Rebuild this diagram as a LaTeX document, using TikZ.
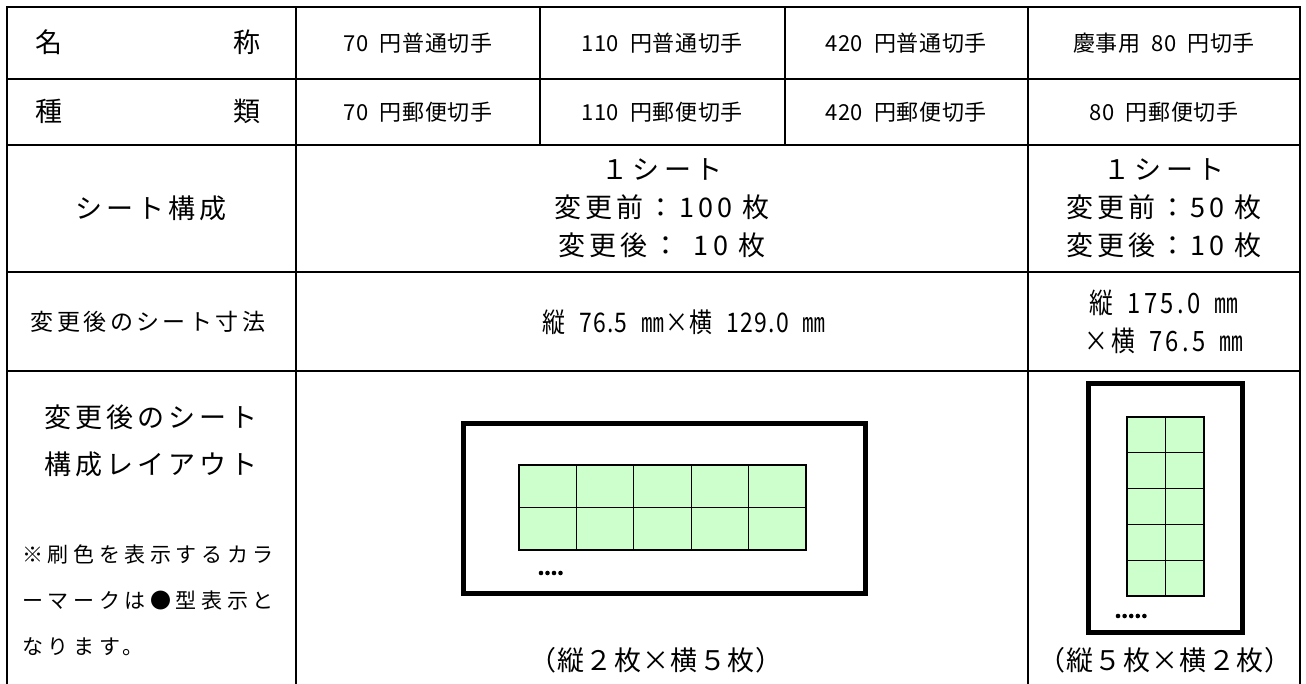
\documentclass[tikz,border=0pt]{standalone}
\usepackage{fontspec}
\setmainfont{Noto Sans CJK JP}
\newfontfamily\jp{Noto Sans CJK JP}
\newfontfamily\jpls[LetterSpace=15]{Noto Sans CJK JP}
\newfontfamily\jpmid[LetterSpace=15]{Noto Sans CJK JP}
\newfontfamily\jpnote[LetterSpace=22]{Noto Sans CJK JP}
\newfontfamily\jpsmall[LetterSpace=3]{Noto Sans CJK JP}
\newfontfamily\jpdim[FakeStretch=0.85,LetterSpace=5]{Noto Sans CJK JP}
\newfontfamily\jpdimr[FakeStretch=0.85,LetterSpace=12]{Noto Sans CJK JP}
\newfontfamily\jpparen[LetterSpace=5]{Noto Sans CJK JP}
\newcommand\jsp{\hspace{0.5em}}
\definecolor{stampgreen}{HTML}{CCFFCC}
\begin{document}
\begin{tikzpicture}[x=1pt,y=-1pt,
  tline/.style={line width=2.5pt},
  big/.style={font={\jpls\fontsize{27}{38}\selectfont}, inner sep=0pt},
  lay/.style={font={\jpls\fontsize{27}{47}\selectfont}, inner sep=0pt},
  paren/.style={font={\jpparen\fontsize{27}{30}\selectfont}, inner sep=0pt},
  small/.style={font={\jpsmall\fontsize{22}{26}\selectfont}, inner sep=0pt},
  midls/.style={font={\jpmid\fontsize{23}{30}\selectfont}, inner sep=0pt},
  dimtxt/.style={font={\jpdim\fontsize{27}{38}\selectfont}, inner sep=0pt},
  dimr/.style={font={\jpdimr\fontsize{28}{38}\selectfont}, inner sep=0pt},
  note/.style={font={\jpnote\fontsize{21}{30}\selectfont}, inner sep=0pt, anchor=west},
  sheet/.style={line width=5pt},
  stamp/.style={draw=black, line width=1.2pt, fill=stampgreen}
]
\useasboundingbox (0,0) rectangle (1306,684);
\fill[white] (0,0) rectangle (1306,684);
% table frame
\draw[tline] (7,695) -- (7,7) -- (1300,7) -- (1300,695);
\foreach \yy in {79,145,272,371} \draw[tline] (7,\yy) -- (1300,\yy);
\draw[tline] (296,7) -- (296,695);
\draw[tline] (1028,7) -- (1028,695);
\draw[tline] (540,7) -- (540,145);
\draw[tline] (785,7) -- (785,145);
% row 1
\node[big] (n1) at (49,42) {名};
\node[big] (n2) at (247,42) {称};
\node[small] (a1) at (418,43) {70\jsp 円普通切手};
\node[small] (a2) at (662,43) {110\jsp 円普通切手};
\node[small] (a3) at (906,43) {420\jsp 円普通切手};
\node[small] (a4) at (1164,43) {慶事用\jsp 80\jsp 円切手};
% row 2
\node[big] (k1) at (49,111) {種};
\node[big] (k2) at (247,111) {類};
\node[small] (b1) at (418,112) {70\jsp 円郵便切手};
\node[small] (b2) at (662,112) {110\jsp 円郵便切手};
\node[small] (b3) at (906,112) {420\jsp 円郵便切手};
\node[small] (b4) at (1164,112) {80\jsp 円郵便切手};
% row 3
\node[big] (sk) at (151,208) {シート構成};
\node[big, align=center] (c3) at (662,208) {１シート\\変更前：100 枚\\変更後：\phantom{1}10 枚};
\node[big, align=center] (c3r) at (1164,208) {１シート\\変更前：50 枚\\変更後：10 枚};
% row 4
\node[midls] (sz) at (148,322) {変更後のシート寸法};
\node[dimtxt] (d1) at (684,322) {縦\jsp 76.5\jsp ㎜×横\jsp 129.0\jsp ㎜};
\node[dimr, align=center] (d2) at (1164,322) {縦\jsp 175.0\jsp ㎜\\×横\jsp 76.5\jsp ㎜};
% row 5 left
\node[lay, align=center] (ly) at (151,441) {変更後のシート\\構成レイアウト};
\node[note] (nt1) at (22,554) {※刷色を表示するカラ};
\node[note] (nt2) at (22,601) {ーマークは●型表示と};
\node[note] (nt3) at (22,647) {なります。};
% layout 1
\draw[sheet] (463,423) rectangle (865,593);
\foreach \i in {0,...,4} \foreach \j in {0,1}
  \draw[stamp] (519+\i*57.4,465+\j*42.5) rectangle ++(57.4,42.5);
\foreach \i in {0,...,3} \fill (541+\i*6.5,573) circle (2.3);
\node[paren] (p1) at (656,660) {（縦２枚×横５枚）};
% layout 2
\draw[sheet] (1088,383) rectangle (1242,632);
\foreach \i in {0,1} \foreach \j in {0,...,4}
  \draw[stamp] (1127+\i*38.5,417+\j*35.8) rectangle ++(38.5,35.8);
\foreach \i in {0,...,4} \fill (1118+\i*6.6,616) circle (2.3);
\node[paren] (p2) at (1165,660) {（縦５枚×横２枚）};
\end{tikzpicture}
\end{document}
